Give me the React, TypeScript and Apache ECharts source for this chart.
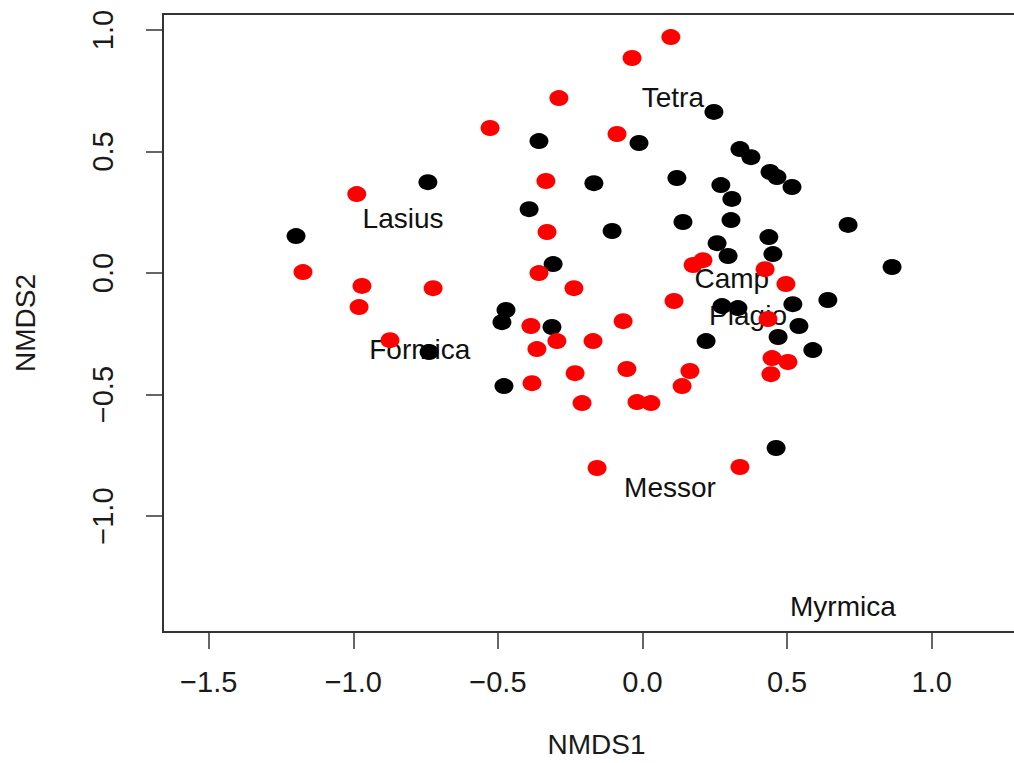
import React, { useEffect, useRef } from "react";
import * as echarts from "echarts";

// NMDS site scores (black group)
const blackX = [-0.358, -0.742, -0.168, -0.392, -1.198, -0.309, -0.472, -0.486, -0.313, -0.738, -0.479, 0.247, -0.012, 0.337, 0.375, 0.441, 0.465, 0.517, 0.119, 0.271, 0.309, 0.711, -0.105, 0.14, 0.306, 0.437, 0.258, 0.296, 0.451, 0.863, 0.275, 0.33, 0.52, 0.641, 0.541, 0.22, 0.469, 0.589, 0.462];
const blackY = [0.543, 0.374, 0.37, 0.263, 0.152, 0.037, -0.152, -0.202, -0.222, -0.325, -0.465, 0.663, 0.535, 0.51, 0.477, 0.416, 0.395, 0.354, 0.391, 0.362, 0.305, 0.198, 0.173, 0.21, 0.218, 0.148, 0.123, 0.07, 0.078, 0.025, -0.136, -0.144, -0.128, -0.111, -0.218, -0.28, -0.263, -0.317, -0.72];

// NMDS site scores (red group)
const redX = [0.098, -0.036, -0.289, -0.527, -0.088, -0.334, -0.988, -0.33, -0.358, -1.174, -0.97, -0.724, -0.237, -0.98, -0.386, -0.873, -0.296, -0.171, -0.365, -0.382, -0.233, -0.209, -0.157, 0.175, 0.209, 0.424, 0.496, 0.109, -0.067, 0.434, -0.054, 0.164, 0.137, 0.448, 0.503, 0.444, -0.019, 0.029, 0.337];
const redY = [0.971, 0.885, 0.72, 0.597, 0.572, 0.379, 0.325, 0.169, 0.0, 0.004, -0.053, -0.062, -0.062, -0.14, -0.218, -0.276, -0.28, -0.28, -0.313, -0.453, -0.412, -0.535, -0.802, 0.033, 0.053, 0.016, -0.045, -0.115, -0.198, -0.189, -0.395, -0.403, -0.465, -0.35, -0.366, -0.416, -0.531, -0.535, -0.798];

// Species scores (text labels)
const speciesNames = ["Tetra", "Lasius", "Camp", "Plagio", "Formica", "Messor", "Myrmica"];
const speciesX = [0.105, -0.828, 0.309, 0.365, -0.77, 0.095, 0.693];
const speciesY = [0.724, 0.226, -0.021, -0.173, -0.313, -0.881, -1.374];

const xTicks = [-1.5, -1.0, -0.5, 0.0, 0.5, 1.0];
const yTicks = [-1.0, -0.5, 0.0, 0.5, 1.0];

const FONT = "Liberation Sans";
const TEXT = "#1a1a1a";

const fmt = (v: number) => {
  const s = Math.abs(v).toFixed(1);
  return v < 0 ? "\u2212" + s : s;
};

export default function App() {
  const ref = useRef<HTMLDivElement>(null);
  useEffect(() => {
    if (!ref.current) return;
    const chart = echarts.init(ref.current, null, { renderer: "svg" });
    const blackData = blackX.map((x, i) => [x, blackY[i]]);
    const redData = redX.map((x, i) => [x, redY[i]]);
    const labelData = speciesNames.map((n, i) => ({ value: [speciesX[i], speciesY[i]], name: n }));
    chart.setOption({
      animation: false,
      backgroundColor: "#ffffff",
      grid: {
        left: 163,
        top: 14,
        right: 10,
        bottom: 131,
        show: true,
        borderColor: "#333333",
        borderWidth: 2,
        backgroundColor: "transparent",
      },
      xAxis: {
        type: "value",
        min: -1.658,
        max: 1.34,
        name: "NMDS1",
        nameLocation: "middle",
        nameGap: 98,
        nameTextStyle: { fontFamily: FONT, fontSize: 28, color: TEXT },
        axisLine: { show: false, onZero: false },
        splitLine: { show: false },
        axisTick: {
          show: true,
          length: 17,
          customValues: xTicks,
          lineStyle: { color: "#333333", width: 1.5 },
        },
        axisLabel: {
          customValues: xTicks,
          formatter: fmt,
          fontFamily: FONT,
          fontSize: 29,
          color: TEXT,
          margin: 35,
        },
      },
      yAxis: {
        type: "value",
        min: -1.477,
        max: 1.066,
        name: "NMDS2",
        nameLocation: "middle",
        nameGap: 124,
        nameTextStyle: { fontFamily: FONT, fontSize: 28, color: TEXT },
        axisLine: { show: false, onZero: false },
        splitLine: { show: false },
        axisTick: {
          show: true,
          length: 17,
          customValues: yTicks,
          lineStyle: { color: "#333333", width: 1.5 },
        },
        axisLabel: {
          customValues: yTicks,
          formatter: fmt,
          rotate: 90,
          fontFamily: FONT,
          fontSize: 29,
          color: TEXT,
          margin: 46,
        },
      },
      series: [
        {
          type: "scatter",
          data: labelData,
          symbolSize: 1,
          itemStyle: { color: "rgba(0,0,0,0)", opacity: 1 },
          z: 1,
          silent: true,
          label: {
            show: true,
            position: "inside",
            formatter: (p: any) => p.name,
            fontFamily: FONT,
            fontSize: 28,
            color: "#111111",
            opacity: 1,
          },
        },
        {
          type: "scatter",
          data: blackData,
          symbol: "circle",
          symbolSize: [19, 16],
          itemStyle: { color: "#000000", opacity: 1 },
          z: 2,
        },
        {
          type: "scatter",
          data: redData,
          symbol: "circle",
          symbolSize: [19, 16],
          itemStyle: { color: "#ff0000", opacity: 1 },
          z: 3,
        },
      ],
    });
    return () => chart.dispose();
  }, []);
  return (
    <div style={{ position: "fixed", left: 0, top: 0, width: 1014, height: 763, overflow: "hidden", background: "#fff" }}>
      <div ref={ref} style={{ width: 1040, height: 763 }} />
    </div>
  );
}
